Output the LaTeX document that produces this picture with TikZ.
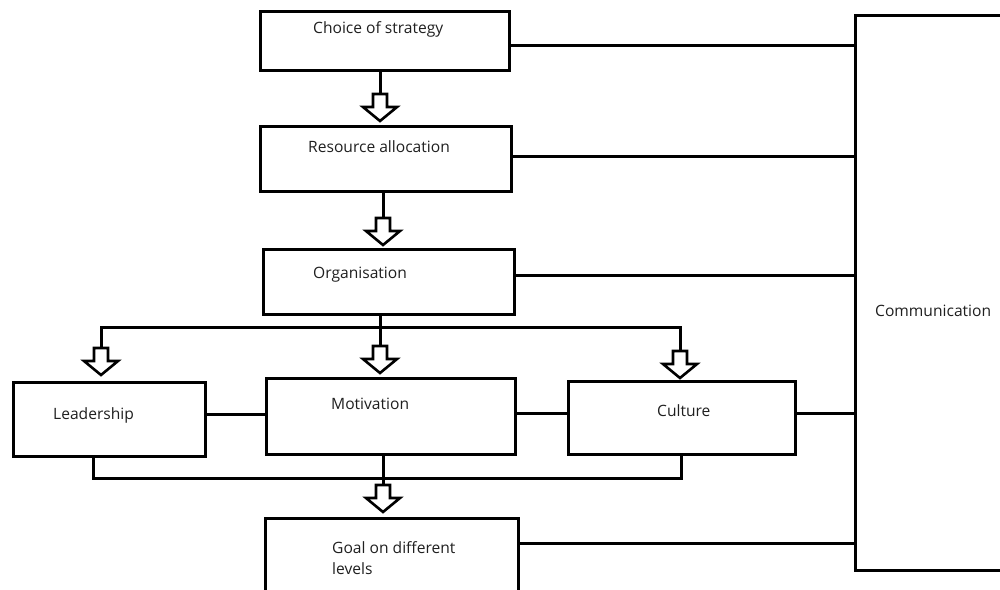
\documentclass[tikz,border=0pt]{standalone}
\usepackage{fontspec}
\setmainfont{Open Sans}
\usetikzlibrary{calc}
\tikzset{
  box/.style={draw=black, line width=3pt, rectangle, inner sep=0pt, anchor=north west},
  txt/.style={inner sep=0pt, anchor=base west, font=\fontsize{15.6}{21}\selectfont, text=black!88},
  conn/.style={draw=black, line width=3pt},
  hollow/.pic={\draw[line width=2.6pt, line join=miter, fill=white] (-7,-27) -- (7,-27) -- (7,-14) -- (17,-14) -- (0,0) -- (-17,-14) -- (-7,-14) -- cycle;}
}
\begin{document}
\begin{tikzpicture}[x=1pt,y=-1pt]
\useasboundingbox (0,0) rectangle (1000,589);
\clip (0,0) rectangle (1000,589);
% boxes
\node[box, minimum width=249, minimum height=59] (b1) at (259,10) {};
\node[box, minimum width=251, minimum height=65] (b2) at (259,125) {};
\node[box, minimum width=251, minimum height=65] (b3) at (262,248) {};
\node[box, minimum width=192, minimum height=74] (lead) at (12,381) {};
\node[box, minimum width=249, minimum height=76] (mot) at (265,377) {};
\node[box, minimum width=227, minimum height=73] (cult) at (567,380) {};
\node[box, minimum width=253, minimum height=120] (goal) at (264,517) {};
\node[box, minimum width=200, minimum height=555] (comm) at (854,14) {};
% texts
\node[txt] (t1) at (313,33.5) {Choice of strategy};
\node[txt] (t2) at (308,152) {Resource allocation};
\node[txt] (t3) at (313,278) {Organisation};
\node[txt] (t4) at (53,419) {Leadership};
\node[txt] (t5) at (331,409) {Motivation};
\node[txt] (t6) at (657,416) {Culture};
\node[txt, align=left] (t7) at (332,574) {Goal on different\\levels};
\node[txt] (t8) at (875,316) {Communication};
% coordinates for arrow tips
\coordinate (a1) at (380,121);
\coordinate (a2) at (383,245);
\coordinate (a3) at (101,375);
\coordinate (a4) at (380,373);
\coordinate (a5) at (680,378);
\coordinate (a6) at (383,512);
\coordinate (split) at (380,327);
\coordinate (join) at (383,478);
% vertical chain
\draw[conn] (b1.south -| a1) -- ($(a1)+(0,-27)$);
\pic at (a1) {hollow};
\draw[conn] (b2.south -| a2) -- ($(a2)+(0,-27)$);
\pic at (a2) {hollow};
% distribution
\draw[conn] (b3.south -| split) -- (split);
\draw[conn] ($(a3)+(0,-27)$) |- (split) -| ($(a5)+(0,-27)$);
\draw[conn] (split) -- ($(a4)+(0,-27)$);
\pic at (a3) {hollow};
\pic at (a4) {hollow};
\pic at (a5) {hollow};
% side links
\draw[conn] (lead.east |- 0,414) -- (mot.west |- 0,414);
\draw[conn] (mot.east |- 0,413) -- (cult.west |- 0,413);
% collection
\draw[conn] (lead.south -| 93,0) |- (join) -| (cult.south -| 681,0);
\draw[conn] (mot.south -| join) -- ($(a6)+(0,-27)$);
\pic at (a6) {hollow};
% to communication
\draw[conn] (b1.east |- 0,45) -- (comm.west |- 0,45);
\draw[conn] (b2.east |- 0,156) -- (comm.west |- 0,156);
\draw[conn] (b3.east |- 0,275) -- (comm.west |- 0,275);
\draw[conn] (cult.east |- 0,413) -- (comm.west |- 0,413);
\draw[conn] (goal.east |- 0,543) -- (comm.west |- 0,543);
\end{tikzpicture}
\end{document}
